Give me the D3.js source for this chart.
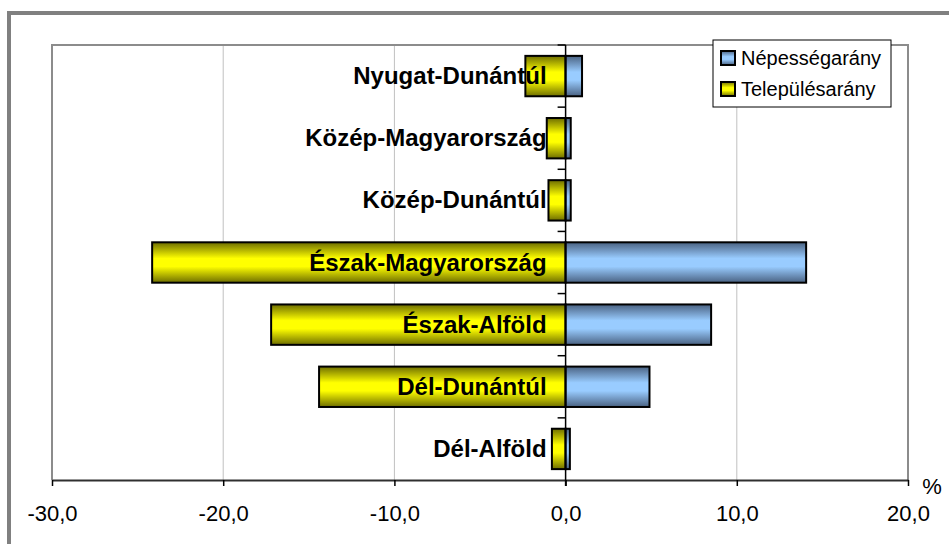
<!DOCTYPE html>
<html>
<head>
<meta charset="utf-8">
<script src="https://cdn.jsdelivr.net/npm/d3@7"></script>
<style>
  body { margin: 0; background: #fff; }
  text { font-family: "Liberation Sans", Arial, sans-serif; }
</style>
</head>
<body>
<div id="chart"></div>
<script>
const categories = ['Nyugat-Dunántúl', 'Közép-Magyarország', 'Közép-Dunántúl', 'Észak-Magyarország', 'Észak-Alföld', 'Dél-Dunántúl', 'Dél-Alföld'];
const nepessegArany = [0.96, 0.3, 0.3, 14.05, 8.5, 4.9, 0.25];
const telepulesArany = [-2.35, -1.1, -1.0, -24.15, -17.2, -14.4, -0.8];
const xTicks = [-30, -20, -10, 0, 10, 20];
const seriesNames = ['Népességarány', 'Településarány'];

const width = 949;
const height = 544;
const plot = { left: 52, top: 45, right: 908, bottom: 480 };

const COLORS = {
  FRAME: '#808080',
  GRID: '#c0c0c0',
  AXIS: '#303030'
};

const svg = d3.select('#chart').append('svg')
  .attr('width', width)
  .attr('height', height)
  .attr('viewBox', [0, 0, width, height]);

// gradients for the 3D-ish Excel bar fill
const defs = svg.append('defs');
const addGradient = (id, edge, mid) => {
  const g = defs.append('linearGradient')
    .attr('id', id)
    .attr('x1', 0).attr('y1', 0).attr('x2', 0).attr('y2', 1);
  g.append('stop').attr('offset', '0%').attr('stop-color', edge);
  g.append('stop').attr('offset', '40%').attr('stop-color', mid);
  g.append('stop').attr('offset', '60%').attr('stop-color', mid);
  g.append('stop').attr('offset', '100%').attr('stop-color', edge);
};
addGradient('gBlue', '#4a6282', '#99ccff');
addGradient('gYellow', '#6e6e00', '#ffff00');

// outer chart frame (right and bottom edges run off the page)
svg.append('rect')
  .attr('x', 9).attr('y', 13)
  .attr('width', 1000).attr('height', 600)
  .attr('fill', 'none')
  .attr('stroke', COLORS.FRAME)
  .attr('stroke-width', 4);

const x = d3.scaleLinear().domain([-30, 20]).range([plot.left, plot.right]);
const y = d3.scaleBand().domain(categories)
  .range([plot.top, plot.bottom])
  .paddingInner(0.35)
  .paddingOuter(0.175);

// gridlines
svg.append('g')
  .selectAll('line')
  .data(xTicks.filter(d => d !== 0 && d !== -30 && d !== 20))
  .join('line')
    .attr('x1', d => x(d)).attr('x2', d => x(d))
    .attr('y1', plot.top).attr('y2', plot.bottom)
    .attr('stroke', COLORS.GRID)
    .attr('stroke-width', 1);

// plot area border
svg.append('path')
  .attr('d', `M${plot.left},${plot.bottom}V${plot.top}H${plot.right}V${plot.bottom}`)
  .attr('fill', 'none')
  .attr('stroke', '#8c8c8c')
  .attr('stroke-width', 2);

// bars
const rows = categories.map((c, i) => ({ cat: c, nep: nepessegArany[i], tel: telepulesArany[i] }));
const barGroup = svg.append('g')
  .attr('stroke', '#000')
  .attr('stroke-width', 2);

barGroup.selectAll('rect.tel')
  .data(rows)
  .join('rect')
    .attr('class', 'tel')
    .attr('x', d => x(d.tel))
    .attr('y', d => y(d.cat))
    .attr('width', d => x(0) - x(d.tel))
    .attr('height', y.bandwidth())
    .attr('fill', 'url(#gYellow)');

barGroup.selectAll('rect.nep')
  .data(rows)
  .join('rect')
    .attr('class', 'nep')
    .attr('x', x(0))
    .attr('y', d => y(d.cat))
    .attr('width', d => x(d.nep) - x(0))
    .attr('height', y.bandwidth())
    .attr('fill', 'url(#gBlue)');

// x axis
const xAxis = svg.append('g')
  .attr('transform', `translate(0,${plot.bottom})`)
  .call(d3.axisBottom(x).tickValues(xTicks).tickSizeInner(6).tickSizeOuter(0).tickPadding(19)
    .tickFormat(d => d3.format('.1f')(d).replace('.', ',').replace('−', '-')));
xAxis.select('.domain').attr('stroke', COLORS.AXIS).attr('stroke-width', 2);
xAxis.selectAll('.tick line').attr('stroke', '#000').attr('stroke-width', 1.5);
xAxis.selectAll('.tick text')
  .attr('font-size', 22)
  .attr('font-family', '"Liberation Sans", Arial, sans-serif')
  .attr('fill', '#000');

svg.append('text')
  .attr('x', 932).attr('y', 494)
  .attr('text-anchor', 'middle')
  .attr('font-size', 22)
  .text('%');

// category axis at zero
const yAxis = svg.append('g')
  .attr('transform', `translate(${x(0)},0)`);
yAxis.append('line')
  .attr('x1', 0).attr('x2', 0)
  .attr('y1', plot.top).attr('y2', plot.bottom + 6)
  .attr('stroke', '#000').attr('stroke-width', 1.5);
yAxis.selectAll('line.tick')
  .data(categories.map(c => y(c) - y.step() * y.paddingInner() / 2))
  .join('line')
    .attr('class', 'tick')
    .attr('x1', -8).attr('x2', 0)
    .attr('y1', d => d).attr('y2', d => d)
    .attr('stroke', '#000').attr('stroke-width', 1.5);

// category labels drawn over the bars
svg.append('g')
  .selectAll('text')
  .data(categories)
  .join('text')
    .attr('x', x(0) - 19)
    .attr('y', d => y(d) + y.bandwidth() / 2 + 8)
    .attr('text-anchor', 'end')
    .attr('font-size', 24)
    .attr('font-weight', 'bold')
    .attr('fill', '#000')
    .text(d => d);

// legend
const legend = svg.append('g').attr('transform', 'translate(713,40)');
legend.append('rect')
  .attr('width', 178).attr('height', 67)
  .attr('fill', '#fff')
  .attr('stroke', '#000')
  .attr('stroke-width', 1);

const legendItems = legend.selectAll('g.item')
  .data(seriesNames)
  .join('g')
    .attr('class', 'item')
    .attr('transform', (d, i) => `translate(0,${10 + i * 31})`);
legendItems.append('rect')
  .attr('x', 8).attr('y', 1)
  .attr('width', 14).attr('height', 14)
  .attr('fill', (d, i) => i === 0 ? 'url(#gBlue)' : 'url(#gYellow)')
  .attr('stroke', '#000')
  .attr('stroke-width', 2);
legendItems.append('text')
  .attr('x', 28).attr('y', 15)
  .attr('font-size', 20)
  .attr('fill', '#000')
  .text(d => d);
</script>
</body>
</html>
